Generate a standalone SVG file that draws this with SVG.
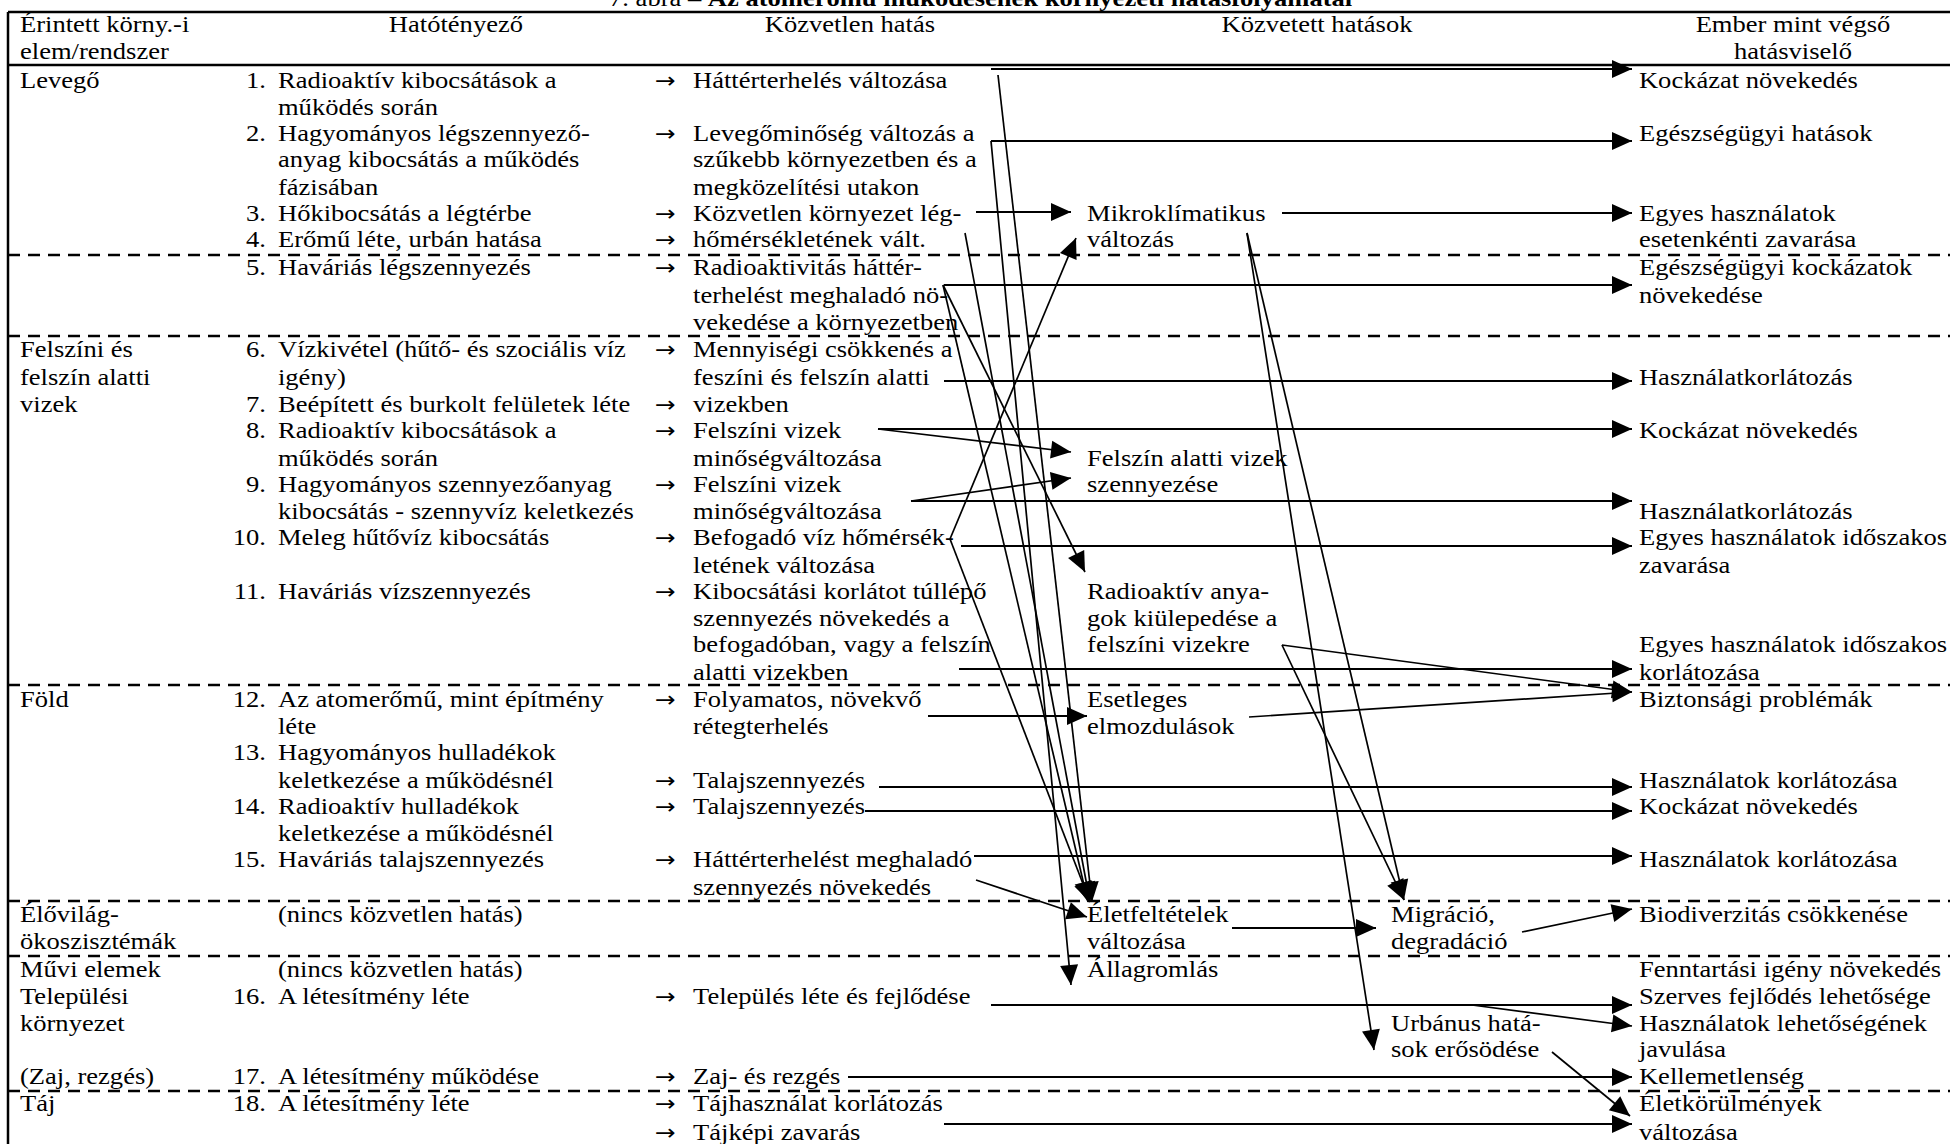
<svg xmlns="http://www.w3.org/2000/svg" width="1950" height="1144" viewBox="0 0 1950 1144">
<style>
text{font-family:"Liberation Serif","Times New Roman","DejaVu Serif",serif;font-size:23.5px;fill:#000}
.n{text-anchor:end}
.m{text-anchor:middle}
.b{font-weight:bold}
.ar{font-family:"DejaVu Sans","Liberation Sans",sans-serif;font-size:22px}
.rule{stroke:#000;stroke-width:2.5;fill:none}
.dash{stroke:#000;stroke-width:2.5;stroke-dasharray:12 8;fill:none}
.c{stroke:#000;stroke-width:2.2;fill:none;marker-end:url(#ah)}
.d{stroke:#000;stroke-width:1.7;fill:none;marker-end:url(#ah)}
</style>
<defs>
<marker id="ah" markerUnits="userSpaceOnUse" markerWidth="20" markerHeight="18" refX="20" refY="9" orient="auto" overflow="visible">
<path d="M0,0 L20,9 L0,18 Z" fill="#000"/>
</marker>
</defs>
<rect width="1950" height="1144" fill="#fff"/>
<g id="table-rules">
<path class="rule" d="M8,12 H1950"/>
<path class="rule" d="M8,65 H1950"/>
<path class="rule" stroke-width="3" d="M8,12 V1144"/>
<path class="dash" d="M8,255 H1950"/>
<path class="dash" d="M8,336 H1950"/>
<path class="dash" d="M8,685 H1950"/>
<path class="dash" d="M8,901 H1950"/>
<path class="dash" d="M8,956 H1950"/>
<path class="dash" d="M8,1091 H1950"/>
</g>
<g id="connectors">
<path class="c" d="M991,69 H1632"/>
<path class="c" d="M991,141 H1632"/>
<path class="c" d="M1282,213 H1632"/>
<path class="c" d="M944,285 H1632"/>
<path class="c" d="M944,381 H1632"/>
<path class="c" d="M878,429 H1632"/>
<path class="c" d="M911,501 H1632"/>
<path class="c" d="M961,546 H1632"/>
<path class="c" d="M959,669 H1632"/>
<path class="d" d="M1282,645 L1632,692"/>
<path class="d" d="M1249,717 L1632,692"/>
<path class="c" d="M879,787 H1632"/>
<path class="c" d="M865,811 H1632"/>
<path class="c" d="M974,856 H1632"/>
<path class="d" d="M1522,932 L1632,909"/>
<path class="c" d="M991,1005 H1632"/>
<path class="d" d="M1472,1005 L1632,1026"/>
<path class="c" d="M848,1077 H1632"/>
<path class="d" d="M1552,1052 L1630,1116"/>
<path class="c" d="M944,1124 H1632"/>
<path class="c" d="M976,212 H1071"/>
<path class="d" d="M878,429 L1071,452"/>
<path class="d" d="M911,501 L1071,478"/>
<path class="c" d="M928,716 H1087"/>
<path class="c" d="M1232,928 H1376"/>
<path class="d" d="M998,75 L1092,902"/>
<path class="d" d="M991,141 L1071,985"/>
<path class="d" d="M965,233 L1090,902"/>
<path class="d" d="M943,285 L1085,572"/>
<path class="d" d="M943,285 L1088,902"/>
<path class="d" d="M950,539 L1076,238"/>
<path class="d" d="M950,539 L1090,902"/>
<path class="d" d="M976,880 L1087,917"/>
<path class="d" d="M1247,233 L1404,900"/>
<path class="d" d="M1247,233 L1374,1050"/>
<path class="d" d="M1282,645 L1404,900"/>
</g>
<g id="texts" transform="scale(1.13,1)">
<g id="title"><text x="539" y="6">7. ábra – <tspan class="b">Az atomerőmű működésének környezeti hatásfolyamatai</tspan></text></g>
<g id="headers">
<text x="17.7" y="32">Érintett körny.-i</text>
<text x="17.7" y="59">elem/rendszer</text>
<text class="m" x="403.5" y="32">Hatótényező</text>
<text class="m" x="752.2" y="32">Közvetlen hatás</text>
<text class="m" x="1165.5" y="32">Közvetett hatások</text>
<text class="m" x="1586.7" y="32">Ember mint végső</text>
<text class="m" x="1586.7" y="59">hatásviselő</text>
</g>
<g id="elements">
<text x="17.7" y="88">Levegő</text>
<text x="17.7" y="357">Felszíni és</text>
<text x="17.7" y="385">felszín alatti</text>
<text x="17.7" y="412">vizek</text>
<text x="17.7" y="707">Föld</text>
<text x="17.7" y="922">Élővilág-</text>
<text x="17.7" y="949">ökoszisztémák</text>
<text x="17.7" y="977">Művi elemek</text>
<text x="17.7" y="1004">Települési</text>
<text x="17.7" y="1031">környezet</text>
<text x="17.7" y="1084">(Zaj, rezgés)</text>
<text x="17.7" y="1111">Táj</text>
</g>
<g id="factors">
<text class="n" x="235.4" y="88">1.</text><text x="246" y="88">Radioaktív kibocsátások a</text><text x="246" y="115">működés során</text>
<text class="n" x="235.4" y="141">2.</text><text x="246" y="141">Hagyományos légszennyező-</text><text x="246" y="167">anyag kibocsátás a működés</text><text x="246" y="195">fázisában</text>
<text class="n" x="235.4" y="221">3.</text><text x="246" y="221">Hőkibocsátás a légtérbe</text>
<text class="n" x="235.4" y="247">4.</text><text x="246" y="247">Erőmű léte, urbán hatása</text>
<text class="n" x="235.4" y="275">5.</text><text x="246" y="275">Haváriás légszennyezés</text>
<text class="n" x="235.4" y="357">6.</text><text x="246" y="357">Vízkivétel (hűtő- és szociális víz</text><text x="246" y="385">igény)</text>
<text class="n" x="235.4" y="412">7.</text><text x="246" y="412">Beépített és burkolt felületek léte</text>
<text class="n" x="235.4" y="438">8.</text><text x="246" y="438">Radioaktív kibocsátások a</text><text x="246" y="466">működés során</text>
<text class="n" x="235.4" y="492">9.</text><text x="246" y="492">Hagyományos szennyezőanyag</text><text x="246" y="519">kibocsátás - szennyvíz keletkezés</text>
<text class="n" x="235.4" y="545">10.</text><text x="246" y="545">Meleg hűtővíz kibocsátás</text>
<text class="n" x="235.4" y="599">11.</text><text x="246" y="599">Haváriás vízszennyezés</text>
<text class="n" x="235.4" y="707">12.</text><text x="246" y="707">Az atomerőmű, mint építmény</text><text x="246" y="734">léte</text>
<text class="n" x="235.4" y="760">13.</text><text x="246" y="760">Hagyományos hulladékok</text><text x="246" y="788">keletkezése a működésnél</text>
<text class="n" x="235.4" y="814">14.</text><text x="246" y="814">Radioaktív hulladékok</text><text x="246" y="841">keletkezése a működésnél</text>
<text class="n" x="235.4" y="867">15.</text><text x="246" y="867">Haváriás talajszennyezés</text>
<text x="246" y="922">(nincs közvetlen hatás)</text>
<text x="246" y="977">(nincs közvetlen hatás)</text>
<text class="n" x="235.4" y="1004">16.</text><text x="246" y="1004">A létesítmény léte</text>
<text class="n" x="235.4" y="1084">17.</text><text x="246" y="1084">A létesítmény működése</text>
<text class="n" x="235.4" y="1111">18.</text><text x="246" y="1111">A létesítmény léte</text>
</g>
<g id="direct-effects">
<text class="ar" x="579.6" y="88">→</text><text x="613.3" y="88">Háttérterhelés változása</text>
<text class="ar" x="579.6" y="141">→</text><text x="613.3" y="141">Levegőminőség változás a</text><text x="613.3" y="167">szűkebb környezetben és a</text><text x="613.3" y="195">megközelítési utakon</text>
<text class="ar" x="579.6" y="221">→</text><text x="613.3" y="221">Közvetlen környezet lég-</text>
<text class="ar" x="579.6" y="247">→</text><text x="613.3" y="247">hőmérsékletének vált.</text>
<text class="ar" x="579.6" y="275">→</text><text x="613.3" y="275">Radioaktivitás háttér-</text><text x="613.3" y="303">terhelést meghaladó nö-</text><text x="613.3" y="330">vekedése a környezetben</text>
<text class="ar" x="579.6" y="357">→</text><text x="613.3" y="357">Mennyiségi csökkenés a</text><text x="613.3" y="385">feszíni és felszín alatti</text>
<text class="ar" x="579.6" y="412">→</text><text x="613.3" y="412">vizekben</text>
<text class="ar" x="579.6" y="438">→</text><text x="613.3" y="438">Felszíni vizek</text><text x="613.3" y="466">minőségváltozása</text>
<text class="ar" x="579.6" y="492">→</text><text x="613.3" y="492">Felszíni vizek</text><text x="613.3" y="519">minőségváltozása</text>
<text class="ar" x="579.6" y="545">→</text><text x="613.3" y="545">Befogadó víz hőmérsék-</text><text x="613.3" y="573">letének változása</text>
<text class="ar" x="579.6" y="599">→</text><text x="613.3" y="599">Kibocsátási korlátot túllépő</text><text x="613.3" y="626">szennyezés növekedés a</text><text x="613.3" y="652">befogadóban, vagy a felszín</text><text x="613.3" y="680">alatti vizekben</text>
<text class="ar" x="579.6" y="707">→</text><text x="613.3" y="707">Folyamatos, növekvő</text><text x="613.3" y="734">rétegterhelés</text>
<text class="ar" x="579.6" y="788">→</text><text x="613.3" y="788">Talajszennyezés</text>
<text class="ar" x="579.6" y="814">→</text><text x="613.3" y="814">Talajszennyezés</text>
<text class="ar" x="579.6" y="867">→</text><text x="613.3" y="867">Háttérterhelést meghaladó</text><text x="613.3" y="895">szennyezés növekedés</text>
<text class="ar" x="579.6" y="1004">→</text><text x="613.3" y="1004">Település léte és fejlődése</text>
<text class="ar" x="579.6" y="1084">→</text><text x="613.3" y="1084">Zaj- és rezgés</text>
<text class="ar" x="579.6" y="1111">→</text><text x="613.3" y="1111">Tájhasználat korlátozás</text>
<text class="ar" x="579.6" y="1140">→</text><text x="613.3" y="1140">Tájképi zavarás</text>
</g>
<g id="indirect-effects">
<text x="962" y="221">Mikroklímatikus</text><text x="962" y="247">változás</text>
<text x="962" y="466">Felszín alatti vizek</text><text x="962" y="492">szennyezése</text>
<text x="962" y="599">Radioaktív anya-</text><text x="962" y="626">gok kiülepedése a</text><text x="962" y="652">felszíni vizekre</text>
<text x="962" y="707">Esetleges</text><text x="962" y="734">elmozdulások</text>
<text x="962" y="922">Életfeltételek</text><text x="962" y="949">változása</text>
<text x="962" y="977">Állagromlás</text>
<text x="1231" y="922">Migráció,</text><text x="1231" y="949">degradáció</text>
<text x="1231" y="1031">Urbánus hatá-</text><text x="1231" y="1057">sok erősödése</text>
</g>
<g id="human-effects">
<text x="1450.4" y="88">Kockázat növekedés</text>
<text x="1450.4" y="141">Egészségügyi hatások</text>
<text x="1450.4" y="221">Egyes használatok</text><text x="1450.4" y="247">esetenkénti zavarása</text>
<text x="1450.4" y="275">Egészségügyi kockázatok</text><text x="1450.4" y="303">növekedése</text>
<text x="1450.4" y="385">Használatkorlátozás</text>
<text x="1450.4" y="438">Kockázat növekedés</text>
<text x="1450.4" y="519">Használatkorlátozás</text>
<text x="1450.4" y="545">Egyes használatok időszakos</text><text x="1450.4" y="573">zavarása</text>
<text x="1450.4" y="652">Egyes használatok időszakos</text><text x="1450.4" y="680">korlátozása</text>
<text x="1450.4" y="707">Biztonsági problémák</text>
<text x="1450.4" y="788">Használatok korlátozása</text>
<text x="1450.4" y="814">Kockázat növekedés</text>
<text x="1450.4" y="867">Használatok korlátozása</text>
<text x="1450.4" y="922">Biodiverzitás csökkenése</text>
<text x="1450.4" y="977">Fenntartási igény növekedés</text>
<text x="1450.4" y="1004">Szerves fejlődés lehetősége</text>
<text x="1450.4" y="1031">Használatok lehetőségének</text><text x="1450.4" y="1057">javulása</text>
<text x="1450.4" y="1084">Kellemetlenség</text>
<text x="1450.4" y="1111">Életkörülmények</text><text x="1450.4" y="1140">változása</text>
</g>
</g>
</svg>
